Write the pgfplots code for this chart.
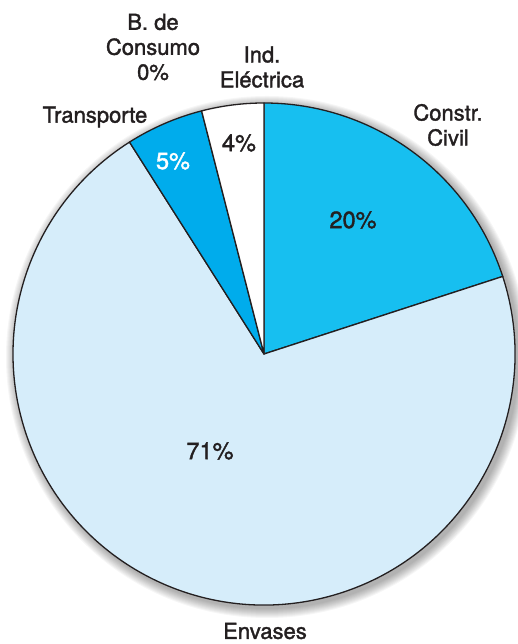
\documentclass[border=0pt]{standalone}
\usepackage{pgfplots}
\pgfplotsset{compat=1.18}
\usepackage{pgfplotstable}
\usepackage{fontspec}
\setmainfont{TeX Gyre Heros}[FakeBold=1.6]
\definecolor{cConstr}{HTML}{17BFF0}
\definecolor{cEnv}{HTML}{D6EDFA}
\definecolor{cTrans}{HTML}{00ACEC}
\definecolor{cCons}{HTML}{FFFFFF}
\definecolor{cElec}{HTML}{FFFFFF}
\definecolor{txt}{HTML}{231F20}

\pgfplotstableread{
sector value
Constr 20
Envases 71
Transporte 5
Consumo 0
Electrica 4
}\piedata

\pgfplotstablegetelem{0}{value}\of\piedata \let\vA\pgfplotsretval
\pgfplotstablegetelem{1}{value}\of\piedata \let\vB\pgfplotsretval
\pgfplotstablegetelem{2}{value}\of\piedata \let\vC\pgfplotsretval
\pgfplotstablegetelem{3}{value}\of\piedata \let\vD\pgfplotsretval
\pgfplotstablegetelem{4}{value}\of\piedata \let\vE\pgfplotsretval
\pgfmathsetmacro\aO{90}
\pgfmathsetmacro\aA{\aO-3.6*\vA}
\pgfmathsetmacro\aB{\aA-3.6*\vB}
\pgfmathsetmacro\aC{\aB-3.6*\vC}
\pgfmathsetmacro\aD{\aC-3.6*\vD}
\pgfmathsetmacro\aE{\aD-3.6*\vE}
\def\cx{264}
\def\cy{290}
\def\R{251}

\newcommand\slice[3]{%
  \filldraw[fill=#3,draw=txt,line width=1.3pt,line join=round]
    (axis cs:\cx,\cy) -- (axis cs:{\cx+\R*cos(#1)},{\cy+\R*sin(#1)})
    arc[start angle=#1,end angle=#2,radius=\R pt] -- cycle;}

\begin{document}
\begin{tikzpicture}
\begin{axis}[
  width=517pt, height=644pt, scale only axis,
  xmin=0, xmax=517, ymin=0, ymax=644, enlargelimits=false,
  hide axis, clip=false,
]
\coordinate (ll) at (axis cs:0,0);
\coordinate (ur) at (axis cs:517,644);
% soft shadow
\pgfplotsinvokeforeach{0,...,9}{
  \fill[overlay,black,opacity=0.035] (axis cs:{\cx+3},{\cy-3}) circle[radius={(\R+10-#1)*1pt}];
}
\slice{\aO}{\aA}{cConstr}
\slice{\aA}{\aB}{cEnv}
\slice{\aB}{\aC}{cTrans}
\slice{\aD}{\aE}{cElec}

\begin{scope}[every node/.style={text=txt,align=center,font=\fontsize{22}{25}\selectfont}]
\node at (axis cs:153,597) {B. de\\Consumo\\0\%};
\node at (axis cs:262,577) {Ind.\\Eléctrica};
\node at (axis cs:95,527) {Transporte};
\node at (axis cs:448,519) {Constr.\\Civil};
\node at (axis cs:265,13) {Envases};
\end{scope}
\begin{scope}[every node/.style={text=txt,font=\fontsize{23.5}{26}\selectfont}]
\node at (axis cs:353,424) {20\%};
\node at (axis cs:239,501) {4\%};
\node[text=white] at (axis cs:173,483) {5\%};
\node at (axis cs:210,193) {71\%};
\end{scope}
\end{axis}
\pgfresetboundingbox
\path (ll) rectangle (ur);
\end{tikzpicture}
\end{document}
